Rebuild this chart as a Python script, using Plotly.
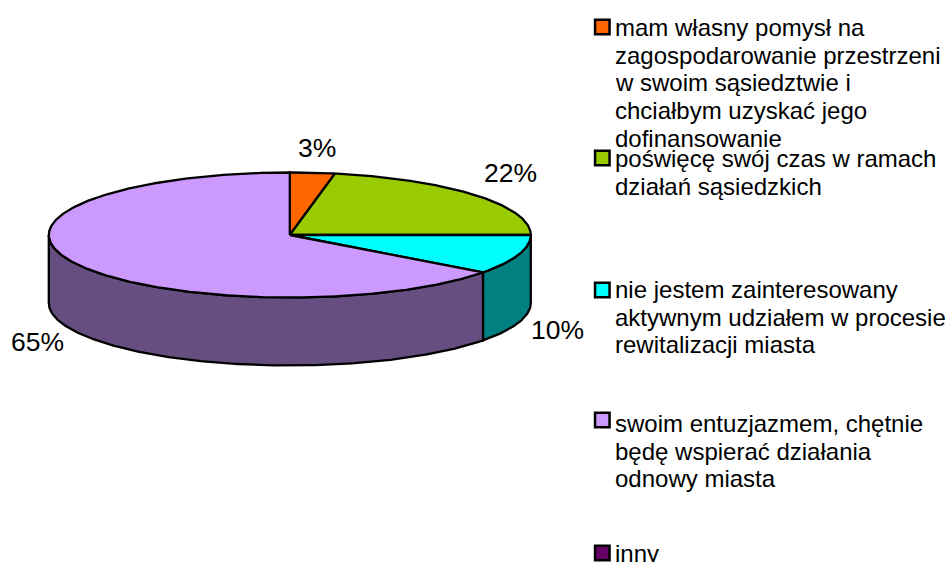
import numpy as np
import plotly.graph_objects as go

categories = [
    ["mam własny pomysł na", "zagospodarowanie przestrzeni", "w swoim sąsiedztwie i", "chciałbym uzyskać jego", "dofinansowanie"],
    ["poświęcę swój czas w ramach", "działań sąsiedzkich"],
    ["nie jestem zainteresowany", "aktywnym udziałem w procesie", "rewitalizacji miasta"],
    ["swoim entuzjazmem, chętnie", "będę wspierać działania", "odnowy miasta"],
    ["inny"],
]
shares = [3, 22, 10.2, 64.8, 0]
top_colors = ["#FF6600", "#99CC00", "#00FFFF", "#CC99FF", "#660066"]
side_colors = ["#803300", "#4D6600", "#008080", "#664E80", "#330033"]

# Pie geometry in figure pixels
CX, CY, RX, RY, DEPTH = 289.8, 235.0, 241.0, 62.5, 68.0
LINE = 2.3


def arc(t0, t1, dy=0.0):
    t = np.radians(np.linspace(t0, t1, max(int(abs(t1 - t0) * 2), 2)))
    return CX + RX * np.sin(t), CY + dy - RY * np.cos(t)


fig = go.Figure()
edges = np.cumsum([0] + shares) / sum(shares) * 360.0

# Side wall: only the part of each slice facing the viewer (90-270 degrees)
for i, color in enumerate(side_colors):
    lo, hi = max(edges[i], 90.0), min(edges[i + 1], 270.0)
    if hi <= lo:
        continue
    x0, y0 = arc(lo, hi)
    x1, y1 = arc(hi, lo, DEPTH)
    fig.add_trace(go.Scatter(
        x=np.r_[x0, x1, x0[0]], y=np.r_[y0, y1, y0[0]],
        mode="lines", fill="toself", fillcolor=color,
        line=dict(color="black", width=LINE), hoverinfo="skip", showlegend=False,
    ))

# Top faces
for i, color in enumerate(top_colors):
    if shares[i] == 0:
        continue
    x0, y0 = arc(edges[i], edges[i + 1])
    fig.add_trace(go.Scatter(
        x=np.r_[CX, x0, CX], y=np.r_[CY, y0, CY],
        mode="lines", fill="toself", fillcolor=color,
        line=dict(color="black", width=LINE), hoverinfo="skip", showlegend=False,
    ))

# Percentage labels
label_xy = [(317, 148), (510.5, 173), (557, 330), (37, 342)]
for v, (lx, ly) in zip(shares, label_xy):
    fig.add_annotation(x=lx, y=ly, text=f"{round(v)}%", showarrow=False,
                       xanchor="center", yanchor="middle",
                       font=dict(family="Liberation Sans", size=26.5, color="black"))

# Hand-placed legend: swatch plus wrapped text, one annotation per line
legend_y = [27, 158, 290, 420, 553]
first_line_mid = [27.3, 158.5, 289.5, 423.5, 553.5]
LINE_STEP = 27.7
for lines, color, sy, ty in zip(categories, top_colors, legend_y, first_line_mid):
    fig.add_trace(go.Scatter(
        x=[602.3], y=[sy], mode="markers",
        marker=dict(symbol="square", size=14.5, color=color,
                    line=dict(color="black", width=2.5)),
        hoverinfo="skip", showlegend=False,
    ))
    for k, line in enumerate(lines):
        fig.add_annotation(x=613.5, y=ty + k * LINE_STEP, text=line, showarrow=False,
                           xanchor="left", yanchor="middle", borderpad=0,
                           font=dict(family="Liberation Sans", size=24, color="black"))

fig.update_layout(
    width=948, height=562, margin=dict(l=0, r=0, t=0, b=0),
    paper_bgcolor="white", plot_bgcolor="white", showlegend=False,
    xaxis=dict(range=[0, 948], visible=False, fixedrange=True),
    yaxis=dict(range=[562, 0], visible=False, fixedrange=True),
)
fig.write_html("out.html", config={"displayModeBar": False},
               post_script="document.body.style.margin='0';")
